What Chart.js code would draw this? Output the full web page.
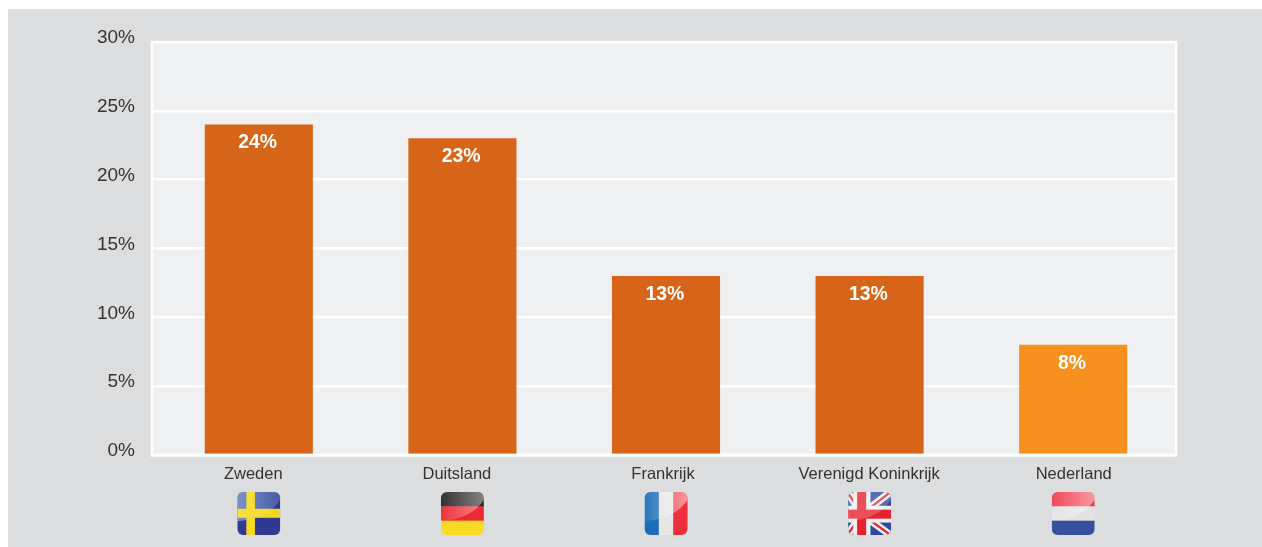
<!DOCTYPE html>
<html><head><meta charset="utf-8">
<script src="https://cdn.jsdelivr.net/npm/chart.js@4"></script>
<style>
html,body{margin:0;padding:0;background:#fff;overflow:hidden}
#wrap{position:absolute;left:8px;top:9px;width:1254px;height:538px;background:#DCDDDF}
canvas{display:block}
</style></head><body>
<div id="wrap"><canvas id="c" width="1254" height="538"></canvas></div>
<script>
const categories = ['Zweden','Duitsland','Frankrijk','Verenigd Koninkrijk','Nederland'];
const shares = [24,23,13,13,8];
const barColors = ['#D6651A','#D6651A','#D6651A','#D6651A','#F7901E'];
const yTicks = [0,5,10,15,20,25,30];
const flagKeys = ['se','de','fr','gb','nl'];
const labelShifts = [-5.5,-5.5,-3,-0.5,0.5];

function stripesH(ctx,s,cols){cols.forEach((c,i)=>{ctx.fillStyle=c;ctx.fillRect(0,i*s/3,s,s/3+0.5);});}
function stripesV(ctx,s,cols){cols.forEach((c,i)=>{ctx.fillStyle=c;ctx.fillRect(i*s/3,0,s/3+0.5,s);});}
function gloss(ctx,s,c,a0,a1){
  const g=ctx.createLinearGradient(0,0,s,0);
  g.addColorStop(0,`rgba(${c},${a0})`);g.addColorStop(1,`rgba(${c},${a1})`);
  ctx.fillStyle=g;ctx.beginPath();ctx.moveTo(0,0);ctx.lineTo(s,0);ctx.lineTo(s,s*0.18);
  ctx.quadraticCurveTo(s*0.72,s*0.62,0,s*0.68);ctx.closePath();ctx.fill();
}
const W='255,255,255';
const flagPainters = {
  se(ctx,s){ctx.fillStyle='#2F3A90';ctx.fillRect(0,0,s,s);gloss(ctx,s,'150,195,240',.5,.2);
    ctx.fillStyle='#F5D920';ctx.fillRect(s*0.21,0,s*0.2,s);ctx.fillRect(0,s*0.39,s,s*0.21);
    gloss(ctx,s,W,.14,.03);},
  de(ctx,s){stripesH(ctx,s,['#2A2728','#ED2A33','#F8DB24']);gloss(ctx,s,W,.05,.42);},
  fr(ctx,s){stripesV(ctx,s,['#1C6DB8','#E6E6E6','#EF2F3C']);gloss(ctx,s,W,.06,.5);},
  nl(ctx,s){stripesH(ctx,s,['#EF3345','#E2E2E2','#36509F']);gloss(ctx,s,W,.1,.5);},
  gb(ctx,s){const cx=s*0.32,cy=s*0.515;
    ctx.fillStyle='#2F4A9C';ctx.fillRect(0,0,s,s);
    ctx.lineCap='butt';
    const diag=()=>{ctx.beginPath();ctx.moveTo(-2,-2);ctx.lineTo(cx,cy);ctx.lineTo(s+2,s+2);
      ctx.moveTo(s+2,-2);ctx.lineTo(cx,cy);ctx.lineTo(-2,s+2);ctx.stroke();};
    ctx.strokeStyle='#F0F0F0';ctx.lineWidth=s*0.17;diag();
    ctx.strokeStyle='#E8232F';ctx.lineWidth=s*0.05;diag();
    ctx.fillStyle='#F0F0F0';ctx.fillRect(s*0.12,0,s*0.4,s);ctx.fillRect(0,s*0.32,s,s*0.39);
    ctx.fillStyle='#E8232F';ctx.fillRect(s*0.21,0,s*0.21,s);ctx.fillRect(0,s*0.41,s,s*0.21);
    gloss(ctx,s,W,.2,.2);}
};

function drawFlag(ctx,key,x,y,s){
  ctx.save();ctx.translate(x,y);
  ctx.beginPath();ctx.roundRect(0,0,s,s,6);ctx.clip();
  flagPainters[key](ctx,s);
  ctx.restore();
}

const panel = {
  id:'panel',
  beforeDraw(chart){
    const {ctx,chartArea:a,scales}=chart;
    ctx.save();
    ctx.fillStyle='#EFF0F2';ctx.strokeStyle='#FFFFFF';ctx.lineWidth=2.5;
    const l=a.left-5,w=a.right-l+1,h=a.bottom-a.top;
    ctx.fillRect(l,a.top,w,h);ctx.strokeRect(l,a.top,w,h);
    ctx.restore();
    if(!chart.$shifted){
      scales.x.getLabelItems(a).forEach((it,i)=>{it.options.translation[0]+=labelShifts[i];});
      chart.$shifted=true;
    }
  },
  afterDatasetsDraw(chart){
    const {ctx,chartArea:a,scales}=chart;
    ctx.save();
    ctx.fillStyle='#FFFFFF';ctx.fillRect(a.left-6,a.bottom-1.25,a.right-a.left+7,2.5);
    const meta=chart.getDatasetMeta(0);
    ctx.fillStyle='#FFFFFF';ctx.font='bold 19.4px "Liberation Sans"';ctx.textAlign='center';ctx.textBaseline='middle';
    meta.data.forEach((b,i)=>ctx.fillText(shares[i]+'%',b.x-1.2,b.y+18.4));
    flagKeys.forEach((k,i)=>{
      const cx=scales.x.getPixelForTick(i);
      drawFlag(ctx,k,cx-21.5,a.bottom+37,43);
    });
    ctx.restore();
  }
};

new Chart(document.getElementById('c'),{
  type:'bar',
  data:{labels:categories,datasets:[{data:shares,backgroundColor:barColors,barPercentage:0.531,categoryPercentage:1,borderWidth:0}]},
  plugins:[panel],
  options:{
    responsive:false,animation:false,
    layout:{padding:{left:0,right:87,top:33,bottom:0}},
    plugins:{legend:{display:false},tooltip:{enabled:false}},
    scales:{
      x:{grid:{display:false},border:{display:false},
        afterFit(s){s.height=92;},
        ticks:{color:'#333333',font:{family:'"Liberation Sans"',size:16.5},padding:2,maxRotation:0,autoSkip:false}},
      y:{min:0,max:30,
        afterFit(s){s.width=149;},
        afterBuildTicks(s){s.ticks=yTicks.map(v=>({value:v}));},
        border:{display:false},
        grid:{color:'#FFFFFF',lineWidth:2.5,tickColor:'#FFFFFF',tickLength:6,tickWidth:2.5},
        ticks:{color:'#333333',font:{family:'"Liberation Sans"',size:19},padding:16,labelOffset:-4,callback:v=>v+'%'}}
    }
  }
});
</script></body></html>
